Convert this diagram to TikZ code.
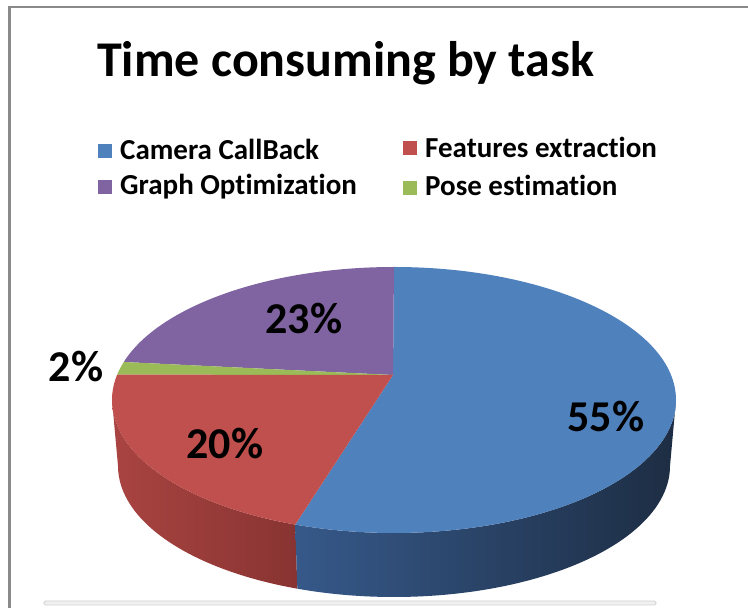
\documentclass[tikz,border=0pt]{standalone}
\usepackage{fontspec}
\setmainfont[Ligatures={NoCommon}]{Carlito}
\usetikzlibrary{calc}

\definecolor{sliceBlue}{HTML}{4F81BD}
\definecolor{sliceRed}{HTML}{C0504D}
\definecolor{slicePurple}{HTML}{8064A2}
\definecolor{sliceGreen}{HTML}{9BBB59}
\definecolor{blueSideL}{HTML}{36598A}
\definecolor{blueSideR}{HTML}{1D2D43}
\definecolor{redSideL}{HTML}{A94441}
\definecolor{redSideR}{HTML}{883432}
\definecolor{frameGray}{HTML}{8A8A8A}

\tikzset{
  titletext/.style={font=\fontsize{50}{56}\selectfont\bfseries, inner sep=0pt, anchor=base west},
  legendtext/.style={font=\fontsize{29}{33}\selectfont\bfseries, inner sep=0pt, anchor=base west},
  pcttext/.style={font=\fontsize{44}{50}\selectfont\bfseries, inner sep=0pt, anchor=base},
  legendkey/.style={minimum size=14pt, inner sep=0pt, anchor=north west, draw=none},
}

\begin{document}
\begin{tikzpicture}[x=1pt,y=1pt]
\useasboundingbox (0,0) rectangle (748,608);
\fill[white] (0,0) rectangle (748,608);

% chart frame (top and left edges) and the scroll bar at the bottom
\draw[frameGray, line width=2.5pt] (9.5,0) -- (9.5,601) -- (748,601);
\draw[fill=gray!12, draw=gray!35, line width=0.8pt, rounded corners=1.5pt] (44,3) rectangle (656,7);

% ellipse centres of the top face and of the base, and the pie centre
\coordinate (top) at (394,208);
\coordinate (bot) at (394,142);
\coordinate (P) at (393,233);

% side walls
\shade[left color=redSideL, right color=redSideR]
  ($(top)+(180:282 and 133)$) arc[start angle=180, end angle=249.5, x radius=282, y radius=133]
  -- ($(bot)+(249.5:276 and 131)$) arc[start angle=249.5, end angle=180, x radius=276, y radius=131] -- cycle;
\shade[left color=blueSideL, right color=blueSideR]
  ($(top)+(249.5:282 and 133)$) arc[start angle=249.5, end angle=360, x radius=282, y radius=133]
  -- ($(bot)+(0:276 and 131)$) arc[start angle=360, end angle=249.5, x radius=276, y radius=131] -- cycle;

% top face slices
\fill[sliceBlue] (P) -- ($(top)+(90:282 and 133)$)
  arc[start angle=90, end angle=-110.5, x radius=282, y radius=133] -- cycle;
\fill[slicePurple] (P) -- ($(top)+(90:282 and 133)$)
  arc[start angle=90, end angle=163.4, x radius=282, y radius=133] -- cycle;
\fill[sliceGreen] (P) -- ($(top)+(163.4:282 and 133)$)
  arc[start angle=163.4, end angle=169, x radius=282, y radius=133] -- cycle;
\fill[sliceRed] (P) -- ($(top)+(169:282 and 133)$)
  arc[start angle=169, end angle=249.5, x radius=282, y radius=133] -- cycle;

% title
\node[titletext] (title) at (97,531) {Time consuming by task};

% legend
\node[legendkey, fill=sliceBlue] (kcam) at (98,464) {};
\node[legendtext] (lcam) at (120,448) {Camera CallBack};
\node[legendkey, fill=sliceRed] (kfeat) at (403,467) {};
\node[legendtext] (lfeat) at (425,450) {Features extraction};
\node[legendkey, fill=slicePurple] (kgraph) at (98,428) {};
\node[legendtext] (lgraph) at (120,413) {Graph Optimization};
\node[legendkey, fill=sliceGreen] (kpose) at (403,427) {};
\node[legendtext] (lpose) at (425,412) {Pose estimation};

% percentage labels
\node[pcttext] (p55) at (606,176) {55\%};
\node[pcttext] (p23) at (304,274) {23\%};
\node[pcttext] (p20) at (225,149) {20\%};
\node[pcttext] (p2) at (76,226) {2\%};
\end{tikzpicture}
\end{document}
